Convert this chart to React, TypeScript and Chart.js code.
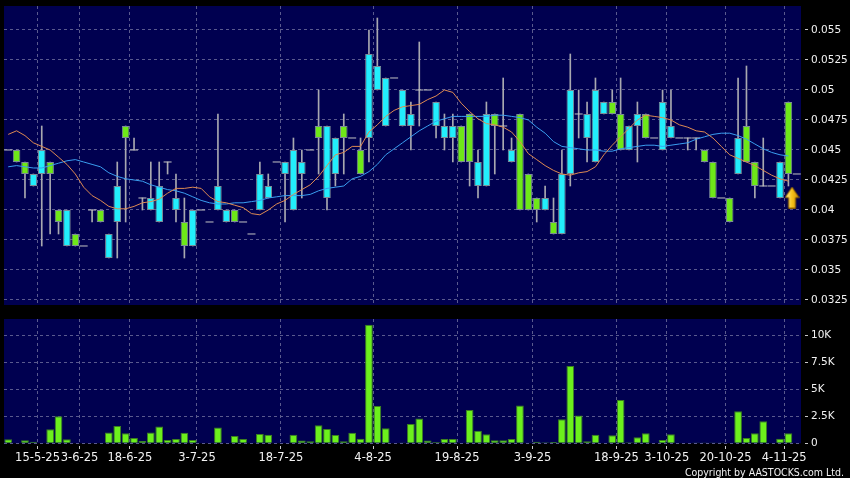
import React, { useEffect, useRef } from 'react';
import { Chart, registerables } from 'chart.js';

Chart.register(...registerables);

// ---- Data (one entry per trading slot, left to right) ----
const opens = [
  0.045, 0.045, 0.044, 0.042, 0.043, 0.044, 0.040, 0.037, 0.038, 0.037,
  0.040, 0.040, 0.036, 0.039, 0.047, 0.045, 0.041, 0.040, 0.039, 0.044,
  0.040, 0.039, 0.037, 0.040, 0.039, 0.040, 0.039, 0.040, 0.039, 0.038,
  0.040, 0.041, 0.044, 0.043, 0.040, 0.043, 0.045, 0.047, 0.041, 0.043,
  0.047, 0.046, 0.045, 0.046, 0.050, 0.047, 0.051, 0.047, 0.047, 0.050,
  0.050, 0.047, 0.046, 0.046, 0.047, 0.048, 0.042, 0.042, 0.048, 0.047,
  0.044, 0.048, 0.043, 0.041, 0.040, 0.039, 0.038, 0.043, 0.048, 0.046,
  0.044, 0.048, 0.049, 0.048, 0.045, 0.047, 0.048, 0.046, 0.045, 0.046,
  0.046, 0.046, 0.046, 0.045, 0.044, 0.041, 0.041, 0.043, 0.047, 0.044,
  0.042, 0.042, 0.041, 0.049, 0.043,
];
const highs = [
  0.045, 0.045, 0.044, 0.043, 0.047, 0.044, 0.040, 0.040, 0.038, 0.037,
  0.040, 0.040, 0.038, 0.044, 0.047, 0.046, 0.041, 0.044, 0.044, 0.044,
  0.043, 0.041, 0.040, 0.040, 0.039, 0.048, 0.040, 0.040, 0.039, 0.038,
  0.044, 0.043, 0.044, 0.044, 0.046, 0.045, 0.045, 0.050, 0.047, 0.046,
  0.048, 0.046, 0.046, 0.055, 0.056, 0.051, 0.051, 0.050, 0.049, 0.054,
  0.050, 0.049, 0.048, 0.048, 0.047, 0.048, 0.045, 0.049, 0.048, 0.051,
  0.046, 0.048, 0.043, 0.041, 0.042, 0.041, 0.045, 0.053, 0.050, 0.049,
  0.051, 0.049, 0.050, 0.051, 0.047, 0.049, 0.048, 0.046, 0.050, 0.050,
  0.046, 0.046, 0.046, 0.045, 0.044, 0.041, 0.041, 0.051, 0.052, 0.044,
  0.046, 0.042, 0.044, 0.049, 0.043,
];
const lows = [
  0.045, 0.044, 0.041, 0.042, 0.037, 0.038, 0.038, 0.037, 0.037, 0.037,
  0.039, 0.039, 0.036, 0.036, 0.039, 0.045, 0.040, 0.040, 0.039, 0.043,
  0.039, 0.036, 0.037, 0.040, 0.039, 0.040, 0.039, 0.039, 0.039, 0.038,
  0.040, 0.041, 0.044, 0.039, 0.040, 0.041, 0.045, 0.043, 0.040, 0.042,
  0.043, 0.046, 0.043, 0.044, 0.050, 0.047, 0.051, 0.047, 0.045, 0.047,
  0.050, 0.046, 0.045, 0.044, 0.044, 0.042, 0.041, 0.042, 0.043, 0.045,
  0.044, 0.040, 0.040, 0.039, 0.040, 0.038, 0.038, 0.042, 0.046, 0.044,
  0.044, 0.048, 0.048, 0.045, 0.045, 0.044, 0.046, 0.046, 0.045, 0.046,
  0.046, 0.045, 0.045, 0.044, 0.041, 0.041, 0.039, 0.043, 0.044, 0.041,
  0.042, 0.042, 0.041, 0.042, 0.043,
];
const closes = [
  0.045, 0.044, 0.043, 0.043, 0.045, 0.043, 0.039, 0.040, 0.037, 0.037,
  0.040, 0.039, 0.038, 0.042, 0.046, 0.045, 0.041, 0.041, 0.042, 0.044,
  0.041, 0.037, 0.040, 0.040, 0.039, 0.042, 0.040, 0.039, 0.039, 0.038,
  0.043, 0.042, 0.044, 0.044, 0.045, 0.044, 0.045, 0.046, 0.047, 0.046,
  0.046, 0.046, 0.043, 0.053, 0.052, 0.051, 0.051, 0.050, 0.048, 0.050,
  0.050, 0.049, 0.047, 0.047, 0.044, 0.044, 0.044, 0.048, 0.047, 0.047,
  0.045, 0.040, 0.040, 0.040, 0.041, 0.038, 0.043, 0.050, 0.048, 0.048,
  0.050, 0.049, 0.048, 0.045, 0.047, 0.048, 0.046, 0.046, 0.049, 0.047,
  0.046, 0.046, 0.046, 0.044, 0.041, 0.041, 0.039, 0.046, 0.044, 0.042,
  0.042, 0.042, 0.044, 0.043, 0.043,
];
// volume in thousands
const volumes = [
  0.37, 0, 0.28, 0.15, 0.05, 1.3, 2.5, 0.37, 0, 0.05,
  0.05, 0, 1.0, 1.6, 0.92, 0.48, 0.22, 1.0, 1.55, 0.3,
  0.4, 0.97, 0.3, 0, 0, 1.45, 0, 0.68, 0.4, 0.05,
  0.85, 0.78, 0, 0, 0.78, 0.25, 0.2, 1.67, 1.32, 0.77,
  0.2, 0.98, 0.43, 10.95, 3.45, 1.4, 0.05, 0.08, 1.79, 2.28,
  0.25, 0.12, 0.4, 0.4, 0, 3.08, 1.17, 0.83, 0.28, 0.28,
  0.4, 3.48, 0.07, 0.15, 0.1, 0.13, 2.22, 7.15, 2.56, 0.2,
  0.8, 0, 0.74, 4.0, 0.1, 0.55, 0.92, 0, 0.3, 0.83,
  0, 0.05, 0.08, 0.08, 0.03, 0.03, 0, 2.96, 0.49, 0.92,
  2.03, 0.05, 0.43, 0.92, 0,
];
// 10-day moving average (orange)
const ma10 = [
  0.0463, 0.0466, 0.0462, 0.0456, 0.0453, 0.0450, 0.0444, 0.0438, 0.0430, 0.0419,
  0.0412, 0.0408, 0.0403, 0.0401, 0.0401, 0.0403, 0.0406, 0.0407, 0.0409, 0.0414,
  0.0418, 0.0418, 0.0419, 0.0418, 0.0411, 0.0407, 0.0406, 0.0404, 0.0402, 0.0397,
  0.0396, 0.0400, 0.0405, 0.0408, 0.0413, 0.0417, 0.0421, 0.0428, 0.0437, 0.0446,
  0.0448, 0.0453, 0.0453, 0.0465, 0.0471, 0.0478, 0.0483, 0.0486, 0.0487, 0.0488,
  0.0492, 0.0495, 0.0500, 0.0498, 0.0489, 0.0482, 0.0476, 0.0472, 0.0471, 0.0469,
  0.0465, 0.0457, 0.0447, 0.0442, 0.0437, 0.0433, 0.0430, 0.0429, 0.0431, 0.0432,
  0.0436, 0.0446, 0.0454, 0.0461, 0.0468, 0.0475, 0.0479, 0.0478, 0.0477, 0.0475,
  0.0471, 0.0469, 0.0466, 0.0465, 0.0460, 0.0453, 0.0446, 0.0443, 0.0440, 0.0437,
  0.0433, 0.0429, 0.0426, 0.0424,
];
// 20-day moving average (blue)
const ma20 = [
  0.0436, 0.0437, 0.0436, 0.0435, 0.0435, 0.0437, 0.0439, 0.0441, 0.0442, 0.0440,
  0.0438, 0.0436, 0.0431, 0.0428, 0.0426, 0.0425, 0.0424, 0.0421, 0.0419, 0.0417,
  0.0416, 0.0414, 0.0411, 0.0408, 0.0406, 0.0405, 0.0405, 0.0406, 0.0406, 0.0407,
  0.0408, 0.0410, 0.0411, 0.0412, 0.0412, 0.0412, 0.0413, 0.0416, 0.0418, 0.0419,
  0.0420, 0.0426, 0.0428, 0.0432, 0.0438, 0.0446, 0.0451, 0.0456, 0.0461, 0.0466,
  0.0470, 0.0474, 0.0476, 0.0478, 0.0478, 0.0478, 0.0478, 0.0478, 0.0479, 0.0479,
  0.0478, 0.0477, 0.0475, 0.0469, 0.0464, 0.0457, 0.0453, 0.0452, 0.0451, 0.0450,
  0.0450, 0.0449, 0.0449, 0.0451, 0.0452, 0.0453, 0.0454, 0.0454, 0.0453, 0.0454,
  0.0455, 0.0456, 0.0459, 0.0461, 0.0463, 0.0464, 0.0464, 0.0462, 0.0459, 0.0455,
  0.0451, 0.0448, 0.0446, 0.0445,
];
const dateLabels = ['15-5-25', '3-6-25', '18-6-25', '3-7-25', '18-7-25', '4-8-25', '19-8-25', '3-9-25', '18-9-25', '3-10-25', '20-10-25', '4-11-25'];
const dateLabelSlots = [4, 9, 15, 23, 33, 44, 54, 63, 73, 79, 86, 93];
const priceTicks = [0.0325, 0.035, 0.0375, 0.04, 0.0425, 0.045, 0.0475, 0.05, 0.0525, 0.055];
const priceTickLabels = ['0.0325', '0.035', '0.0375', '0.04', '0.0425', '0.045', '0.0475', '0.05', '0.0525', '0.055'];
const volumeTicks = [0, 2.5, 5, 7.5, 10];
const volumeTickLabels = ['0', '2.5K', '5K', '7.5K', '10K'];
const signalSlot = 94.43;
const signalPrice = 0.04104;

// ---- Styles ----
const PRICE_MIN = 0.032083;
const PRICE_MAX = 0.057;
const VOL_MAX = 11.48;
const NAVY = '#000050';
const GRID = '#5a5a8e';
const TEXT = '#f2f2f2';
const TICK = '#c8c8c8';
const CYAN = '#22eefc';
const GREEN = '#6ee818';
const BODY_BORDER = '#7c8c98';
const WICK = '#a8a8b0';
const DOJI = '#c4c4c4';
const ORANGE = '#de8a52';
const BLUE = '#3a9ef0';
const VOL_FILL = '#6cf01c';
const VOL_BORDER = '#3c8020';
const FONT = 'DejaVu Sans';

const plotBackground = {
  id: 'plotBackground',
  beforeDraw(chart: any) {
    const { ctx, chartArea: a } = chart;
    ctx.save();
    ctx.fillStyle = NAVY;
    ctx.fillRect(a.left, a.top, a.right - a.left, a.bottom - a.top);
    ctx.restore();
  },
};

function makeArrow(): HTMLCanvasElement {
  const c = document.createElement('canvas');
  c.width = 15;
  c.height = 22;
  const g = c.getContext('2d')!;
  g.beginPath();
  g.moveTo(7.5, 0.5);
  g.lineTo(14.5, 11);
  g.lineTo(11, 11);
  g.lineTo(11, 21.5);
  g.lineTo(4, 21.5);
  g.lineTo(4, 11);
  g.lineTo(0.5, 11);
  g.closePath();
  const grad = g.createLinearGradient(0, 0, 15, 0);
  grad.addColorStop(0, '#fff4a8');
  grad.addColorStop(0.5, '#f6c21a');
  grad.addColorStop(1, '#c88a00');
  g.fillStyle = grad;
  g.fill();
  g.strokeStyle = '#8a5c00';
  g.lineWidth = 1;
  g.stroke();
  return c;
}

function xAxis(showLabels: boolean, slotCount: number, height: number) {
  return {
    type: 'linear',
    min: 0.5,
    max: slotCount + 0.5,
    bounds: 'data',
    offset: false,
    afterBuildTicks: (s: any) => {
      s.ticks = dateLabelSlots.map((v) => ({ value: v + 0.5 }));
    },
    afterFit: (s: any) => {
      s.paddingLeft = 0;
      s.paddingRight = 0;
      s.height = height;
    },
    grid: {
      color: GRID,
      offset: false,
      drawTicks: showLabels,
      tickLength: 6,
      tickColor: TICK,
      tickBorderDash: [0, 3, 3, 30],
    },
    border: { display: false, dash: [3, 3] },
    ticks: {
      display: showLabels,
      autoSkip: false,
      maxRotation: 0,
      minRotation: 0,
      padding: 2,
      color: TEXT,
      font: { family: FONT, size: 11.5 },
      callback: (_v: any, i: number) => dateLabels[i],
    },
  };
}

function yAxis(min: number, max: number, ticks: number[], labels: string[]) {
  return {
    type: 'linear',
    position: 'right',
    min,
    max,
    bounds: 'data',
    afterBuildTicks: (s: any) => {
      s.ticks = ticks.map((v) => ({ value: v }));
    },
    afterFit: (s: any) => {
      s.width = 49;
      s.paddingTop = 0;
      s.paddingBottom = 0;
    },
    grid: {
      color: GRID,
      drawTicks: true,
      tickLength: 7,
      tickColor: TICK,
      tickBorderDash: [0, 4, 3, 30],
    },
    border: { display: false, dash: [3, 3] },
    ticks: {
      padding: 3,
      color: TEXT,
      font: { family: FONT, size: 10.5 },
      callback: (_v: any, i: number) => labels[i],
    },
  };
}

export default function App() {
  const priceRef = useRef<HTMLCanvasElement>(null);
  const volRef = useRef<HTMLCanvasElement>(null);

  useEffect(() => {
    const slotCount = opens.length;
    const bodyData: any[] = [];
    const bodyColors: string[] = [];
    const wickData: any[] = [];
    const dojiData: any[] = [];
    opens.forEach((o, i) => {
      const x = i + 1;
      const c = closes[i];
      if (o !== c) {
        bodyData.push({ x, y: [o, c] });
        bodyColors.push(c > o ? CYAN : GREEN);
      } else {
        dojiData.push({ x, y: c });
      }
      if (highs[i] > lows[i]) wickData.push({ x, y: [lows[i], highs[i]] });
    });
    const ma10Data = ma10.map((v, i) => ({ x: i + 1, y: v }));
    const ma20Data = ma20.map((v, i) => ({ x: i + 1, y: v }));
    const volData = volumes.map((v, i) => ({ x: i + 1, y: v }));

    const priceChart = new Chart(priceRef.current!, {
      type: 'bar',
      data: {
        datasets: [
          { type: 'line', label: 'MA10', data: ma10Data, borderColor: ORANGE, borderWidth: 1, pointRadius: 0, tension: 0, order: 0 } as any,
          { type: 'line', label: 'MA20', data: ma20Data, borderColor: BLUE, borderWidth: 1, pointRadius: 0, tension: 0, order: 0 } as any,
          { type: 'line', label: 'Signal', data: [{ x: signalSlot, y: signalPrice }], showLine: false, pointStyle: makeArrow(), pointRadius: 10, order: 0 } as any,
          { type: 'line', label: 'Doji', data: dojiData, showLine: false, pointStyle: 'line', pointRadius: 4, pointBorderColor: DOJI, pointBorderWidth: 1, borderColor: DOJI, order: 1 } as any,
          { type: 'bar', label: 'Body', data: bodyData, backgroundColor: bodyColors, borderColor: BODY_BORDER, borderWidth: 1, borderSkipped: false, barPercentage: 0.9, categoryPercentage: 1, grouped: false, order: 2 } as any,
          { type: 'bar', label: 'Wick', data: wickData, backgroundColor: WICK, barThickness: 1, grouped: false, order: 3 } as any,
        ],
      },
      options: {
        responsive: false,
        animation: false,
        devicePixelRatio: 1,
        events: [],
        layout: { autoPadding: false, padding: { left: 4, top: 6, right: 0, bottom: 7 } },
        plugins: { legend: { display: false }, tooltip: { enabled: false } },
        scales: {
          x: xAxis(false, slotCount, 0) as any,
          y: yAxis(PRICE_MIN, PRICE_MAX, priceTicks, priceTickLabels) as any,
        },
      },
      plugins: [plotBackground],
    });

    const volChart = new Chart(volRef.current!, {
      type: 'bar',
      data: {
        datasets: [
          { type: 'bar', label: 'Volume', data: volData, backgroundColor: VOL_FILL, borderColor: VOL_BORDER, borderWidth: 1, borderSkipped: 'start', barPercentage: 0.92, categoryPercentage: 1 } as any,
        ],
      },
      options: {
        responsive: false,
        animation: false,
        devicePixelRatio: 1,
        events: [],
        layout: { autoPadding: false, padding: { left: 4, top: 7, right: 0, bottom: 0 } },
        plugins: { legend: { display: false }, tooltip: { enabled: false } },
        scales: {
          x: xAxis(true, slotCount, 34.7) as any,
          y: yAxis(0, VOL_MAX, volumeTicks, volumeTickLabels) as any,
        },
      },
      plugins: [plotBackground],
    });

    return () => {
      priceChart.destroy();
      volChart.destroy();
    };
  }, []);

  return (
    <div style={{ position: 'absolute', left: 0, top: 0, width: 850, height: 478, background: '#000', overflow: 'hidden' }}>
      <canvas ref={priceRef} width={850} height={312} style={{ position: 'absolute', left: 0, top: 0 }} />
      <canvas ref={volRef} width={850} height={166} style={{ position: 'absolute', left: 0, top: 312 }} />
      <div style={{ position: 'absolute', right: 6, top: 465, color: TEXT, fontFamily: '"DejaVu Sans Condensed", "DejaVu Sans"', fontStretch: 'condensed', fontSize: 10.5, lineHeight: '14px', whiteSpace: 'nowrap' }}>
        Copyright by AASTOCKS.com Ltd.
      </div>
    </div>
  );
}
